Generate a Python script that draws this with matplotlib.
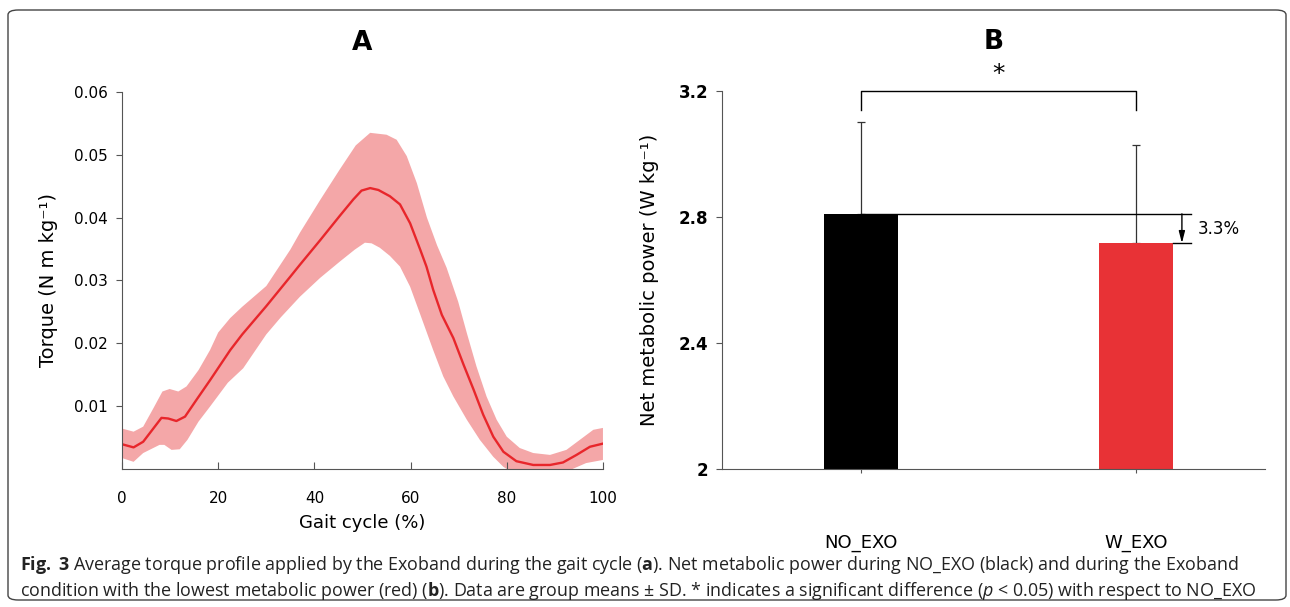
import numpy as np
import matplotlib.pyplot as plt
from matplotlib.patches import FancyBboxPatch

plt.rcParams['font.family'] = ['DejaVu Sans']
plt.rcParams['mathtext.fontset'] = 'custom'
plt.rcParams['mathtext.rm'] = 'Open Sans'
plt.rcParams['mathtext.it'] = 'Open Sans:italic'
plt.rcParams['mathtext.bf'] = 'Open Sans:bold'

# Panel A: torque over the gait cycle (mean and +/- SD band)
mean_pct = [0, 2.4, 4.4, 6.5, 8.2, 9.6, 11.3, 13.1, 15.5, 18.3, 22.5, 25, 30, 35, 37,
            41.2, 45.3, 48.1, 49.8, 51.6, 53.3, 55.7, 57.8, 59.9, 62.0, 63.3, 64.7,
            66.5, 68.9, 71.0, 73.1, 75.1, 77.2, 79.3, 82.0, 85.5, 89.0, 91.7, 94.5,
            97.3, 100]
torque_mean = [.0039, .0034, .0043, .0064, .0081, .0080, .0076, .0083, .0110, .0141,
               .0189, .0214, .0259, .0306, .0325, .0364, .0403, .0429, .0443, .0447,
               .0444, .0434, .0421, .0391, .0349, .0322, .0285, .0245, .0208, .0166,
               .0126, .0086, .0051, .0027, .0012, .0006, .0006, .0010, .0022, .0035,
               .0040]

upper_pct = [0, 2.4, 4.4, 6.5, 8.4, 9.9, 11.7, 13.4, 15.9, 18.3, 20, 22.5, 25, 30, 35,
             37, 41.2, 45.3, 48.6, 51.6, 55.0, 57.1, 59.2, 61.3, 63.4, 65.5, 67.5, 69.9,
             71.7, 73.7, 75.8, 77.9, 80, 82.7, 85.5, 89, 92.4, 95.2, 98, 100]
torque_upper = [.0064, .0059, .0067, .0096, .0123, .0127, .0123, .0131, .0157, .0189,
                .0217, .0240, .0258, .0291, .0349, .0376, .0428, .0477, .0515, .0535,
                .0532, .0524, .0498, .0455, .0400, .0356, .0320, .0266, .0216, .0163,
                .0115, .0078, .0051, .0033, .0025, .0022, .0030, .0046, .0062, .0065]

lower_pct = [0, 2.4, 4.4, 7.8, 8.8, 10.3, 12, 13.6, 15.9, 18.3, 22, 25.2, 30, 33, 37,
             41.2, 45.3, 48.4, 50.5, 51.9, 53.6, 55.7, 57.8, 59.9, 62.0, 64.7, 66.8,
             68.9, 71.7, 74.4, 77.2, 79.3, 82, 85, 88, 91, 93.8, 96.5, 100]
torque_lower = [.0017, .0011, .0025, .0038, .0038, .0030, .0031, .0046, .0075, .0099,
                .0137, .0160, .0214, .0241, .0274, .0304, .0330, .0349, .0360, .0359,
                .0352, .0339, .0322, .0290, .0246, .0189, .0147, .0115, .0078, .0046,
                .0019, .0003, -.0010, -.0016, -.0018, -.0012, .0000, .0009, .0014]

# Panel B: net metabolic power
conditions = ['NO_EXO', 'W_EXO']
power_mean = [2.81, 2.717]
power_sd = [0.29, 0.31]
reduction_label = '3.3%'

red = '#e8262b'
grey = '#555555'
fig = plt.figure(figsize=(12.9, 6.07), dpi=100)

# ---- panel A ----
axA = fig.add_axes([0.0946, 0.2278, 0.3728, 0.6206])
band_x = np.concatenate([upper_pct, lower_pct[::-1]])
band_y = np.concatenate([torque_upper, torque_lower[::-1]])
axA.fill(band_x, band_y, color='#f4a7a8', lw=0)
axA.plot(mean_pct, torque_mean, color=red, lw=1.7, solid_joinstyle='round')
axA.set_xlim(0, 100)
axA.set_ylim(0, 0.06)
axA.set_xticks([0, 20, 40, 60, 80, 100])
axA.set_yticks([0.01, 0.02, 0.03, 0.04, 0.05, 0.06])
axA.set_yticklabels(['0.01', '0.02', '0.03', '0.04', '0.05', '0.06'])
axA.tick_params(axis='x', direction='in', length=5, pad=16, labelsize=11, color=grey)
axA.tick_params(axis='y', direction='out', length=4, pad=6, labelsize=11, color=grey)
for s in ['top', 'right']:
    axA.spines[s].set_visible(False)
for s in ['left', 'bottom']:
    axA.spines[s].set_color(grey)
axA.set_xlabel('Gait cycle (%)', fontsize=13, labelpad=6)
axA.set_ylabel('Torque (N m kg⁻¹)', fontsize=14, labelpad=12)
axA.set_title('A', fontsize=19, fontweight='bold', pad=30)

# ---- panel B ----
axB = fig.add_axes([0.5597, 0.2273, 0.4209, 0.6228])
xpos = np.arange(len(conditions))
axB.bar(xpos, power_mean, width=0.27, color=['black', '#e83236'], zorder=2)
axB.errorbar(xpos, power_mean, yerr=[[0, 0], power_sd], fmt='none', ecolor='#333333',
             elinewidth=0.9, capsize=3, capthick=0.9, zorder=1)
axB.set_xlim(-0.505, 1.469)
axB.set_ylim(2, 3.2)
axB.set_xticks(xpos)
axB.set_xticklabels(conditions)
axB.set_yticks([2, 2.4, 2.8, 3.2])
axB.set_yticklabels(['2', '2.4', '2.8', '3.2'], fontweight='bold')
axB.tick_params(axis='x', direction='out', length=3, pad=44, labelsize=13, color=grey)
axB.tick_params(axis='y', direction='out', length=4, pad=6, labelsize=12, color=grey)
for s in ['top', 'right']:
    axB.spines[s].set_visible(False)
for s in ['left', 'bottom']:
    axB.spines[s].set_color(grey)
axB.set_ylabel('Net metabolic power (W kg⁻¹)', fontsize=14, labelpad=14)
axB.set_title('B', fontsize=19, fontweight='bold', pad=30)

# significance bracket
axB.plot([0, 0, 1, 1], [3.14, 3.2, 3.2, 3.14], color='black', lw=1, clip_on=False)
axB.text(0.5, 3.215, '*', ha='center', va='bottom', fontsize=18)

# reduction marker
axB.plot([0, 1.2], [power_mean[0]] * 2, color='black', lw=1, zorder=3)
axB.plot([1.135, 1.2], [power_mean[1]] * 2, color='black', lw=1, zorder=3)
axB.annotate('', xy=(1.167, power_mean[1]), xytext=(1.167, power_mean[0]),
             arrowprops=dict(arrowstyle='-|>,head_length=0.7,head_width=0.18',
                             color='black', lw=1, shrinkA=0, shrinkB=0))
axB.text(1.225, (power_mean[0] + power_mean[1]) / 2, reduction_label, fontsize=12,
         va='center', ha='left')

# caption
cap1 = (r'$\mathbf{Fig.}$ $\mathbf{3}$ Average torque profile applied by the Exoband during the gait cycle '
        r'($\mathbf{a}$). Net metabolic power during NO_EXO (black) and during the Exoband')
cap2 = (r'condition with the lowest metabolic power (red) ($\mathbf{b}$). Data are group means '
        r'± SD. * indicates a significant difference ($p$ < 0.05) with respect to NO_EXO')
fig.text(20 / 1290, 1 - 565 / 607, cap1, fontsize=12.9, family='Open Sans', va='center',
         color='#222222')
fig.text(20 / 1290, 1 - 591 / 607, cap2, fontsize=12.9, family='Open Sans', va='center',
         color='#222222')

# rounded frame around the figure
frame = FancyBboxPatch((8 / 1290, 1 - 600 / 607), 1278 / 1290, 590 / 607,
                       boxstyle='round,pad=0,rounding_size=0.008', transform=fig.transFigure,
                       fill=False, edgecolor='#444444', lw=1)
fig.patches.append(frame)

fig.savefig('out.png', dpi=100)
